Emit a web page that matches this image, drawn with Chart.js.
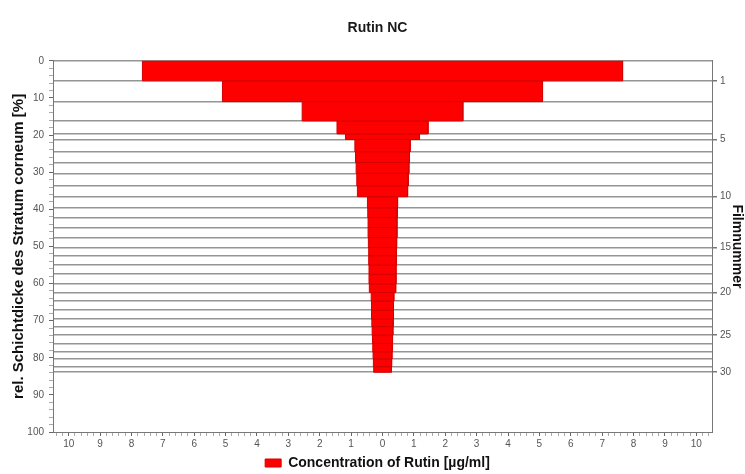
<!DOCTYPE html>
<html>
<head>
<meta charset="utf-8">
<script src="https://cdn.jsdelivr.net/npm/chart.js@4/dist/chart.umd.min.js"></script>
<style>
  html, body { margin: 0; padding: 0; background: #fff; }
  #wrap { width: 745px; height: 474px; }
</style>
</head>
<body>
<div id="wrap"><canvas id="chart"></canvas></div>
<script>
// film (tape strip) numbers
const films = [1, 2, 3, 4, 5, 6, 7, 8, 9, 10, 11, 12, 13, 14, 15, 16, 17, 18, 19, 20, 21, 22, 23, 24, 25, 26, 27, 28, 29, 30];
// lower edge of each strip, rel. Schichtdicke [%]
const stripBottoms = [5.4, 11.0, 16.2, 19.7, 21.2, 24.5, 27.4, 30.3, 33.7, 36.6, 39.6, 42.2, 44.9, 47.6, 50.3, 52.5, 55.0, 57.5, 60.1, 62.4, 64.7, 67.2, 69.6, 71.6, 73.9, 76.1, 78.4, 80.3, 82.4, 83.9];
// concentration of Rutin per strip [µg/ml]
const rutinConc = [7.65, 5.1, 2.56, 1.45, 1.18, 0.88, 0.86, 0.84, 0.82, 0.8, 0.48, 0.47, 0.46, 0.46, 0.45, 0.44, 0.44, 0.43, 0.43, 0.42, 0.36, 0.35, 0.35, 0.34, 0.33, 0.32, 0.31, 0.3, 0.29, 0.28];
// films labelled on the right axis
const filmLabels = [1, 5, 10, 15, 20, 25, 30];

const FONT = "'Liberation Sans', Arial, sans-serif";

const datasets = films.map((f, i) => {
  const top = i === 0 ? 0 : stripBottoms[i - 1];
  const bottom = stripBottoms[i];
  const w = rutinConc[i];
  return {
    label: i === 0 ? "Concentration of Rutin [µg/ml]" : "Film " + f,
    data: [
      { x: -w, y: top },
      { x: w, y: top },
      { x: w, y: bottom },
      { x: -w, y: bottom },
      { x: -w, y: top },
    ],
    showLine: true,
    fill: "shape",
    backgroundColor: "#ff0000",
    borderColor: "#d40000",
    borderWidth: 1,
    pointRadius: 0,
    tension: 0,
    yAxisID: "y",
  };
});

new Chart(document.getElementById("chart"), {
  type: "scatter",
  data: { datasets },
  options: {
    responsive: true,
    maintainAspectRatio: false,
    animation: false,
    layout: { padding: { left: 10, right: 0, top: 0, bottom: -6 } },
    plugins: {
      tooltip: { enabled: false },
      title: {
        display: true,
        text: "Rutin NC",
        color: "#1a1a1a",
        font: { family: FONT, size: 14, weight: "bold" },
        padding: { top: 20, bottom: 24 },
      },
      legend: {
        position: "bottom",
        labels: {
          filter: (item) => item.datasetIndex === 0,
          color: "#111",
          boxWidth: 16,
          boxHeight: 8,
          padding: 4,
          font: { family: FONT, size: 14, weight: "bold" },
        },
      },
    },
    scales: {
      x: {
        type: "linear",
        min: -10.5,
        max: 10.5,
        afterBuildTicks: (scale) => {
          const t = [];
          for (let k = -52; k <= 52; k++) t.push({ value: k / 5 });
          scale.ticks = t;
        },
        afterFit: (scale) => { scale.height = 20; },
        ticks: {
          autoSkip: false,
          maxRotation: 0,
          padding: 2,
          color: "#555",
          font: { family: FONT, size: 10 },
          callback: (v) => (Math.abs(v - Math.round(v)) < 1e-6 ? Math.abs(Math.round(v)) : ""),
        },
        grid: {
          drawOnChartArea: false,
          tickLength: 4,
          tickColor: (ctx) => (ctx.tick && Math.abs(ctx.tick.value - Math.round(ctx.tick.value)) < 1e-6 ? "#666" : "#aaa"),
        },
        border: { color: "#777", width: 1 },
      },
      y: {
        type: "linear",
        position: "left",
        reverse: true,
        min: 0,
        max: 100,
        afterBuildTicks: (scale) => {
          const t = [];
          for (let v = 0; v <= 100; v += 2) t.push({ value: v });
          scale.ticks = t;
        },
        afterFit: (scale) => { scale.width = 43; },
        ticks: {
          autoSkip: false,
          padding: 5,
          color: "#555",
          font: { family: FONT, size: 10 },
          callback: (v) => (v % 10 === 0 ? v : ""),
        },
        grid: {
          drawOnChartArea: false,
          tickLength: 4,
          tickColor: (ctx) => (ctx.tick && ctx.tick.value % 10 === 0 ? "#666" : "#aaa"),
        },
        border: { color: "#777", width: 1 },
        title: {
          display: true,
          text: "rel. Schichtdicke des Stratum corneum [%]",
          color: "#111",
          padding: { top: 0, bottom: 0 },
          font: { family: FONT, size: 15, weight: "bold" },
        },
      },
      y2: {
        type: "linear",
        position: "right",
        reverse: true,
        min: 0,
        max: 100,
        afterBuildTicks: (scale) => {
          scale.ticks = [0].concat(stripBottoms).map((v) => ({ value: v }));
        },
        afterFit: (scale) => { scale.width = 33; },
        ticks: {
          autoSkip: false,
          padding: 3,
          color: "#555",
          font: { family: FONT, size: 10 },
          callback: (v, i) => (i > 0 && filmLabels.includes(films[i - 1]) ? films[i - 1] : ""),
        },
        grid: {
          drawOnChartArea: true,
          color: "#959595",
          lineWidth: 1.5,
          tickLength: 5,
          tickColor: (ctx) => (ctx.index > 0 && filmLabels.includes(films[ctx.index - 1]) ? "#777" : "rgba(0,0,0,0)"),
        },
        border: { color: "#777", width: 1 },
        title: {
          display: true,
          text: "Filmnummer",
          color: "#111",
          padding: { top: 0, bottom: 0 },
          font: { family: FONT, size: 14, weight: "bold" },
        },
      },
    },
  },
});
</script>
</body>
</html>
